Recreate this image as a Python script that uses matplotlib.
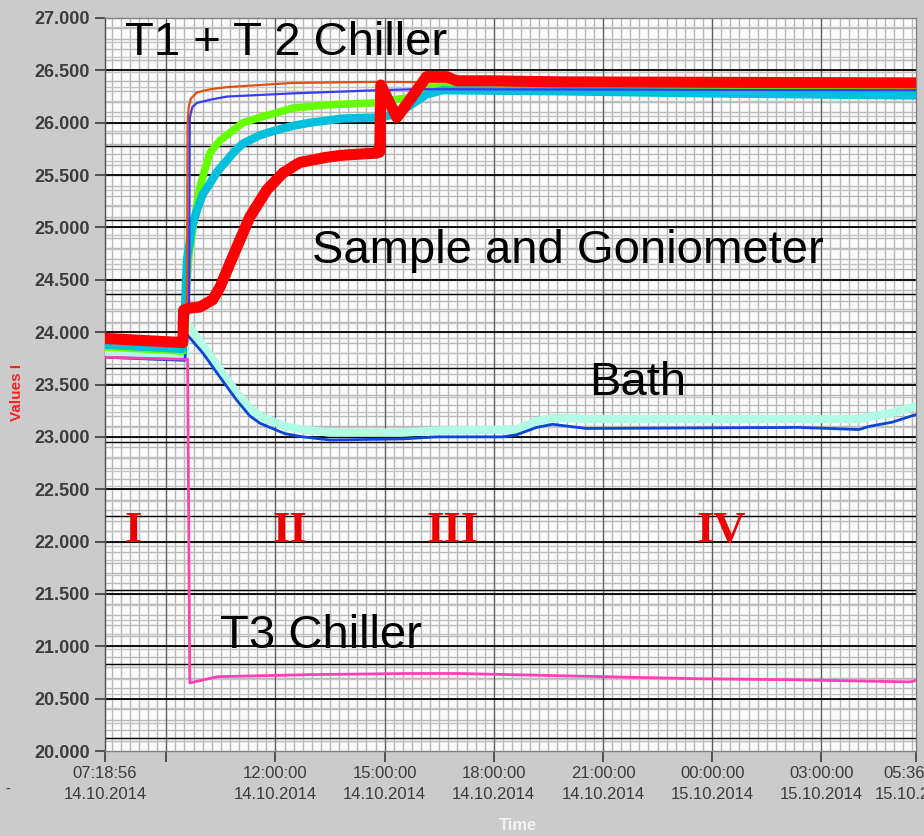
import matplotlib
matplotlib.use("Agg")
import matplotlib.pyplot as plt
import numpy as np
import pandas as pd

# --- data, hours after the start of the record ---
start = pd.Timestamp("2014-10-14 07:18:56")
end = pd.Timestamp("2014-10-15 05:36:08")

red_h = [0, 2.14, 2.16, 2.33, 2.61, 2.96, 3.16, 3.51, 3.98, 4.45, 4.89, 5.35, 6.09, 6.53, 7.47, 7.55,
         7.58, 8.02, 8.84, 9.39, 9.66, 10.65, 12.49, 22.26]
red_v = [23.94, 23.90, 24.21, 24.23, 24.24, 24.31, 24.43, 24.72, 25.10, 25.36, 25.52, 25.62, 25.67,
         25.69, 25.71, 25.72, 26.36, 26.05, 26.44, 26.44, 26.40, 26.40, 26.39, 26.38]

green_h = [0, 2.14, 2.20, 2.31, 2.42, 2.61, 2.88, 3.16, 3.79, 4.25, 5.16, 6.09, 7.47, 7.55, 8.37, 8.84,
           9.28, 12.49, 22.26]
green_v = [23.86, 23.82, 24.20, 24.75, 25.00, 25.39, 25.71, 25.83, 26.00, 26.05, 26.14, 26.17, 26.19,
           26.20, 26.24, 26.33, 26.34, 26.33, 26.31]

cyan_h = [0, 2.14, 2.20, 2.25, 2.39, 2.53, 2.69, 2.88, 3.10, 3.35, 3.57, 3.79, 4.25, 4.72, 5.16, 5.63,
          6.53, 7.47, 8.02, 8.84, 9.28, 12.49, 16.61, 22.26]
cyan_v = [23.88, 23.84, 24.25, 24.69, 25.00, 25.17, 25.32, 25.42, 25.54, 25.64, 25.73, 25.80, 25.88,
          25.93, 25.97, 26.00, 26.04, 26.05, 26.08, 26.27, 26.31, 26.30, 26.28, 26.26]

orange_h = [0, 2.14, 2.25, 2.27, 2.30, 2.36, 2.53, 2.90, 3.35, 5.16, 7.47, 12.49, 22.26]
orange_v = [23.93, 23.90, 24.30, 26.00, 26.15, 26.23, 26.29, 26.32, 26.34, 26.38, 26.39, 26.38, 26.37]

blue_h = [0, 2.14, 2.31, 2.33, 2.40, 2.53, 2.90, 3.35, 5.16, 7.47, 8.5, 22.26]
blue_v = [23.92, 23.88, 24.20, 26.05, 26.15, 26.19, 26.22, 26.25, 26.28, 26.31, 26.32, 26.31]

bath_h = [0, 2.20, 2.22, 2.69, 3.16, 3.62, 3.98, 4.26, 4.53, 4.95, 5.44, 6.18, 8.18, 9.11, 10.93,
          11.31, 11.86, 12.30, 12.76, 13.23, 19.08, 20.72, 21.00, 21.63, 22.26]
bath_v = [23.76, 23.73, 23.99, 23.80, 23.57, 23.35, 23.20, 23.13, 23.09, 23.03, 23.00, 22.97, 22.98,
          23.00, 23.00, 23.02, 23.09, 23.12, 23.10, 23.08, 23.09, 23.07, 23.10, 23.14, 23.21]
bath_set_v = [23.80, 23.76, 24.10, 23.87, 23.64, 23.42, 23.27, 23.20, 23.16, 23.10, 23.07, 23.04,
              23.04, 23.06, 23.07, 23.07, 23.15, 23.18, 23.18, 23.17, 23.17, 23.17, 23.19, 23.23, 23.29]

pink_h = [0, 2.27, 2.33, 3.10, 5.74, 8.37, 9.69, 11.03, 13.67, 16.31, 18.94, 22.10, 22.26]
pink_v = [23.76, 23.74, 20.65, 20.71, 20.73, 20.74, 20.74, 20.73, 20.71, 20.69, 20.68, 20.66, 20.67]

labels = ["T1 + T 2 Chiller", "Sample and Goniometer", "Bath", "T3 Chiller"]
label_h = [0.55, 5.68, 13.31, 3.16]
label_v = [26.65, 24.66, 23.40, 20.98]

phases = ["I", "II", "III", "IV"]
phase_h = [0.77, 5.08, 9.55, 16.94]
phase_v = 22.0

y_ticks = np.arange(20.0, 27.01, 0.5)


def t(hours):
    return start + pd.to_timedelta(np.asarray(hours, dtype=float), unit="h")


fig = plt.figure(figsize=(9.24, 8.36), dpi=100, facecolor="#cbcbcb")
ax = fig.add_axes([105 / 924, 85 / 836, 811 / 924, 733 / 836])
ax.set_facecolor("#fbfbfb")

# grid: minor grey, majors dark
for d in pd.date_range("2014-10-14 07:30", "2014-10-15 05:30", freq="15min"):
    ax.axvline(d, color="#b8b8b8", lw=1.0, zorder=0)
for v in np.arange(20.1, 27.0, 0.1):
    ax.axhline(v, color="#b8b8b8", lw=1.0, zorder=0)
for v in np.arange(20.124, 27.0, 0.1414):
    ax.axhline(v, color="#c4c4c4", lw=1.0, zorder=0)
for d in pd.date_range("2014-10-14 09:00", "2014-10-15 03:00", freq="3h"):
    ax.axvline(d, color="#606060", lw=0.9, zorder=1)
for v in y_ticks[1:-1]:
    ax.axhline(v, color="black", lw=1.3, zorder=1)
for v in np.arange(20.124, 26.4, 0.7065):
    ax.axhline(v, color="black", lw=1.0, zorder=1)

# series
ax.plot(t(bath_h), bath_set_v, color="#b0fce6", lw=6, zorder=3)
ax.plot(t(bath_h), bath_v, color="#0a46d8", lw=2, zorder=4)
ax.plot(t(pink_h), pink_v, color="#ff40b4", lw=2, zorder=4)
ax.plot(t(green_h), green_v, color="#66ff00", lw=5.5, zorder=5)
ax.plot(t(cyan_h), cyan_v, color="#00c0dc", lw=6, zorder=6)
ax.plot(t(orange_h), orange_v, color="#e05010", lw=1.6, zorder=7)
ax.plot(t(blue_h), blue_v, color="#3a3af0", lw=1.6, zorder=7)
ax.plot(t(red_h), red_v, color="#ff0000", lw=8, zorder=8)

for s, h, v in zip(labels, label_h, label_v):
    ax.text(t(h), v, s, fontsize=34, family=["Liberation Sans", "DejaVu Sans"],
            ha="left", va="baseline", color="black", zorder=10)

for s, h in zip(phases, phase_h):
    ax.text(t(h), phase_v, s, fontsize=32, family=["Liberation Serif", "DejaVu Serif"],
            fontweight="bold", ha="center", va="baseline", color="#ee0000", zorder=10)

ax.set_xlim(start, end)
ax.set_ylim(20.0, 27.0)

ax.set_yticks(y_ticks)
ax.set_yticklabels(["%.3f" % v for v in y_ticks], family=["Liberation Sans", "DejaVu Sans"],
                   fontweight="bold", fontsize=13, color="#3c3c3c")

x_ticks = [start] + list(pd.date_range("2014-10-14 09:00", "2014-10-15 03:00", freq="3h")) + [end]
x_labels = []
for d in x_ticks:
    if d.hour == 9 and d.minute == 0:
        x_labels.append("")
    else:
        x_labels.append(d.strftime("%H:%M:%S") + "\n" + d.strftime("%d.%m.%Y"))
ax.set_xticks(x_ticks)
ax.set_xticklabels(x_labels, family=["Liberation Sans", "DejaVu Sans"], fontsize=12,
                   color="#3c3c3c", linespacing=1.45)

ax.tick_params(axis="y", length=7, width=1.2, color="#3c3c3c", pad=4)
ax.tick_params(axis="x", length=8, width=1.2, color="#3c3c3c", pad=3)
for sp in ax.spines.values():
    sp.set_color("#808080")
    sp.set_linewidth(1.0)
ax.spines["left"].set_color("#505050")

fig.text(17 / 924, 1 - 392 / 836, "Values I", rotation=90, color="#ff2020", fontsize=11,
         fontweight="bold", family=["Liberation Sans", "DejaVu Sans"], ha="center", va="center")
fig.text(518 / 924, 1 - 826 / 836, "Time", color="#f2f2f2", fontsize=12, fontweight="bold",
         family=["Liberation Sans", "DejaVu Sans"], ha="center", va="center")
fig.text(8 / 924, 1 - 790 / 836, "-", color="#404040", fontsize=10, ha="center", va="center")

fig.savefig("out.png", dpi=100, facecolor=fig.get_facecolor())
